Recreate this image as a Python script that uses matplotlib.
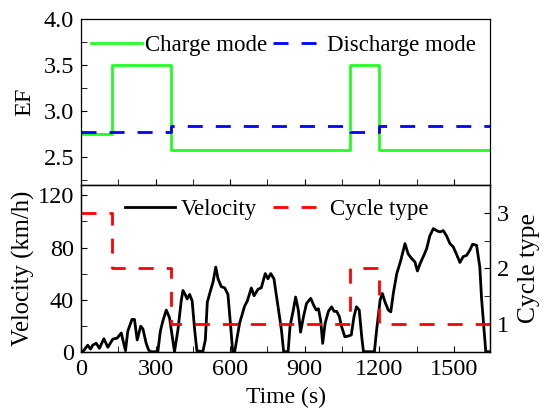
import numpy as np
import matplotlib
matplotlib.use('Agg')
from matplotlib import pyplot as plt
from matplotlib.ticker import MultipleLocator

# mode switching points (s) and EF levels for each segment
step_time = [0, 124, 363, 1083, 1200, 1645]
ef_charge = [2.75, 3.5, 2.58, 3.5, 2.58]
ef_discharge = [2.78, 2.77, 2.84, 2.77, 2.84]
cycle_type = [3, 2, 1, 2, 1]

# driving cycle velocity trace
vel_time = [0, 7, 27, 38, 47, 61, 74, 92, 108, 128, 145, 162, 170, 179, 188, 205,
            215, 226, 240, 249, 262, 272, 280, 309, 319, 329, 343, 356, 376, 390,
            403, 410, 419, 427, 437, 447, 457, 466, 490, 500, 508, 521, 531, 542,
            551, 564, 578, 591, 603, 610, 618, 638, 658, 669, 685, 696, 712, 725,
            741, 752, 763, 776, 792, 806, 815, 833, 841, 854, 863, 874, 883, 895,
            907, 924, 935, 946, 955, 964, 972, 982, 995, 1008, 1018, 1028, 1039,
            1047, 1061, 1074, 1087, 1098, 1108, 1119, 1129, 1136, 1180, 1189, 1203,
            1212, 1223, 1236, 1246, 1256, 1270, 1286, 1303, 1316, 1330, 1343, 1353,
            1364, 1379, 1390, 1403, 1417, 1433, 1444, 1457, 1470, 1484, 1497, 1510,
            1524, 1537, 1551, 1564, 1575, 1591, 1604, 1611, 1620, 1628, 1645]
velocity = [0, 0, 5, 2, 5, 6.5, 2.6, 10, 3.4, 9.7, 10.4, 14.4, 7.8, 0.8, 15.7, 24.8,
            24.8, 9, 19.6, 17.5, 6.5, 1.3, 0, 0, 15.7, 23.5, 32, 26, 0, 17,
            39, 47, 44, 40.5, 44, 39, 17, 0.8, 0, 9, 38, 47, 53.5, 65,
            56, 50, 49, 44, 17, 0, 0, 22, 35, 39, 49, 43, 48, 49,
            60, 56, 60, 56, 35, 17, 0, 0, 20, 32, 42, 32, 15, 27,
            37, 41, 36, 32, 33, 24, 6.4, 22, 31, 34.5, 31, 31, 27,
            20, 11.5, 12, 12.8, 27, 34.5, 32, 11.5, 0, 0, 16.6, 39.6,
            44.7, 38, 32, 30.6, 44.7, 60, 70, 83, 75, 71.5, 69, 62,
            67.7, 74, 79, 89, 94.5, 92.7, 92, 93, 89, 83, 80.5, 75,
            68.5, 73, 74, 78, 82.5, 81.7, 65, 41, 19, 0, 0]

plt.rcParams['font.family'] = ['Liberation Serif', 'DejaVu Serif']
plt.rcParams['font.size'] = 17.5
plt.rcParams['axes.linewidth'] = 0.9

fig = plt.figure(figsize=(5.47, 4.15), dpi=100)
ax1 = fig.add_axes([0.1481, 0.5542, 0.7477, 0.4000])
ax2 = fig.add_axes([0.1481, 0.1525, 0.7477, 0.4017])


def stepped(y):
    return list(y) + [y[-1]]


dash = (5.4, 4.7)
ax1.step(step_time, stepped(ef_charge), where='post', color='#22ff22', lw=2,
         label='Charge mode')
ax1.step(step_time, stepped(ef_discharge), where='post', color='#0000ff', lw=2,
         dashes=dash, label='Discharge mode')
ax1.set_xlim(0, 1645)
ax1.set_ylim(2.2, 4.0)
ax1.yaxis.set_major_locator(MultipleLocator(0.5))
ax1.yaxis.set_minor_locator(MultipleLocator(0.25))
ax1.xaxis.set_major_locator(MultipleLocator(300))
ax1.xaxis.set_minor_locator(MultipleLocator(150))
ax1.tick_params(which='both', direction='in', top=False, right=False,
                labelbottom=False, length=4, pad=5)
ax1.set_ylabel('EF', fontsize=17.5, labelpad=6)
ax1.legend(loc='upper center', ncol=2, frameon=False, handlelength=2.2,
           handletextpad=0.15, columnspacing=0.25, fontsize=16.5,
           bbox_to_anchor=(0.495, 1.03))

ax2.plot(vel_time, velocity, color='black', lw=2, label='Velocity')
ax2.set_xlim(0, 1645)
ax2.set_ylim(0, 128)
ax2.xaxis.set_major_locator(MultipleLocator(300))
ax2.xaxis.set_minor_locator(MultipleLocator(150))
ax2.yaxis.set_major_locator(MultipleLocator(40))
ax2.yaxis.set_minor_locator(MultipleLocator(20))
ax2.tick_params(which='both', direction='in', top=False, right=False,
                length=4, pad=5)
ax2.set_xlabel('Time (s)', fontsize=17, labelpad=5)
ax2.set_ylabel('Velocity (km/h)', fontsize=17.7, labelpad=2)

ax3 = ax2.twinx()
ax3.step(step_time, stepped(cycle_type), where='post', color='#ff0000', lw=2,
         dashes=dash, label='Cycle type')
ax3.set_ylim(0.5, 3.5)
ax3.yaxis.set_major_locator(MultipleLocator(1))
ax3.yaxis.set_minor_locator(MultipleLocator(0.5))
ax3.tick_params(which='both', direction='in', length=4, pad=5)
ax3.set_ylabel('Cycle type', fontsize=18.4, labelpad=6)

handles = ax2.get_legend_handles_labels()[0] + ax3.get_legend_handles_labels()[0]
labels = ['Velocity', 'Cycle type']
ax3.legend(handles, labels, loc='upper center', ncol=2, frameon=False,
           handlelength=2.2, handletextpad=0.25, columnspacing=0.7,
           fontsize=16.5, bbox_to_anchor=(0.478, 1.04))

fig.savefig('out.png', dpi=100)
